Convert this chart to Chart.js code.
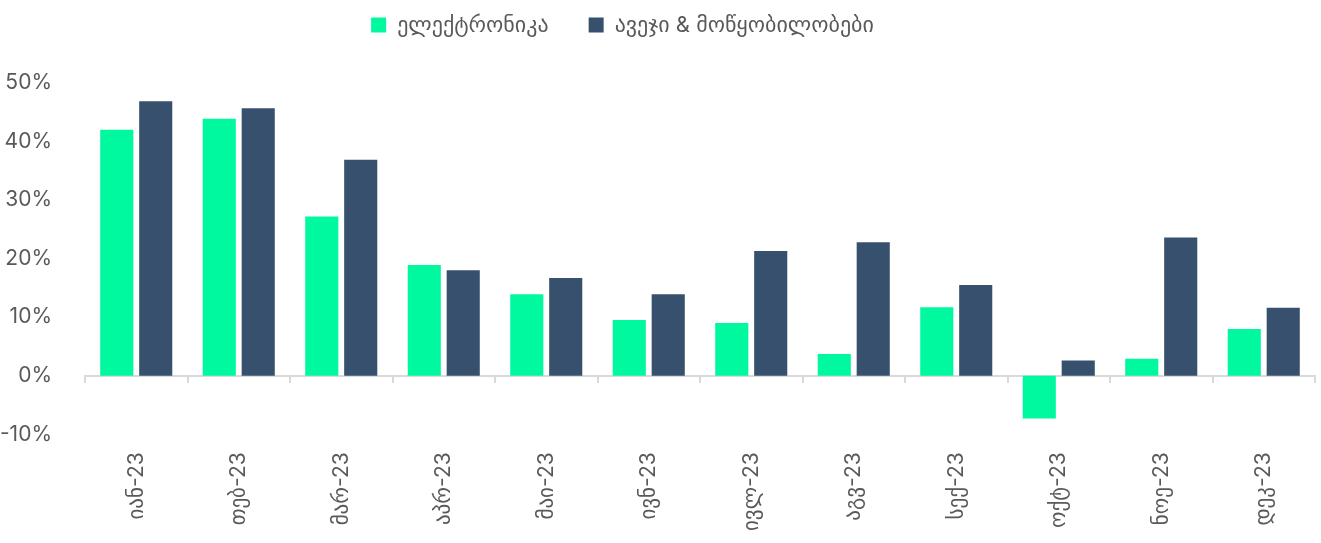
<!DOCTYPE html>
<html>
<head>
<meta charset="utf-8">
<script src="https://cdn.jsdelivr.net/npm/chart.js@4"></script>
<style>
  html, body { margin: 0; padding: 0; background: #fff; }
  #wrap { width: 1321px; height: 543px; }
</style>
</head>
<body>
<div id="wrap"><canvas id="myChart"></canvas></div>
<script>
const months = ['იან-23', 'თებ-23', 'მარ-23', 'აპრ-23', 'მაი-23', 'ივნ-23', 'ივლ-23', 'აგვ-23', 'სექ-23', 'ოქტ-23', 'ნოე-23', 'დეკ-23'];
const electronics = [42.0, 43.9, 27.2, 18.9, 13.9, 9.5, 9.0, 3.7, 11.7, -7.3, 2.9, 8.0];
const furniture = [46.9, 45.7, 36.9, 18.0, 16.7, 13.9, 21.3, 22.8, 15.5, 2.6, 23.6, 11.6];

const fontFamily = "Inter, 'Noto Sans', 'DejaVu Sans', sans-serif";
const textColor = '#595959';

// move the legend up and a bit left, like the original
const legendShift = {
  id: 'legendShift',
  afterLayout(chart) {
    chart.legend.top -= 37;
    chart.legend.bottom -= 37;
    chart.legend.left -= 35;
    chart.legend.right -= 35;
  }
};

var ctx = document.getElementById('myChart');

new Chart(ctx, {
  type: 'bar',
  data: {
    labels: months,
    datasets: [
      {
        label: 'ელექტრონიკა',
        data: electronics,
        backgroundColor: '#00f99e',
        categoryPercentage: 0.76,
        barPercentage: 0.85
      },
      {
        label: 'ავეჯი & მოწყობილობები',
        data: furniture,
        backgroundColor: '#36506e',
        categoryPercentage: 0.76,
        barPercentage: 0.85
      }
    ]
  },
  options: {
    responsive: true,
    maintainAspectRatio: false,
    animation: false,
    layout: { padding: { left: 0, right: 6, top: 11, bottom: 2 } },
    plugins: {
      tooltip: { enabled: false },
      legend: {
        position: 'top',
        labels: {
          boxWidth: 15,
          boxHeight: 15,
          padding: 40,
          color: textColor,
          font: { family: fontFamily, size: 22 }
        }
      }
    },
    scales: {
      x: {
        grid: { display: false },
        border: { display: false },
        ticks: {
          minRotation: 90,
          maxRotation: 90,
          padding: 10,
          color: textColor,
          font: { family: fontFamily, size: 21 }
        }
      },
      // axis line drawn at zero with tick marks between months
      x2: {
        type: 'category',
        labels: months,
        position: { y: 0 },
        offset: true,
        grid: {
          offset: true,
          drawOnChartArea: false,
          drawTicks: true,
          tickLength: 6,
          color: '#d9d9d9',
          lineWidth: 2
        },
        border: { display: true, color: '#d9d9d9', width: 2 },
        ticks: { display: false }
      },
      y: {
        min: -10,
        max: 50,
        grid: { display: false },
        border: { display: false },
        afterFit: scale => { scale.width = 85; },
        ticks: {
          stepSize: 10,
          padding: 25,
          color: textColor,
          font: { family: fontFamily, size: 21 },
          callback: value => value + '%'
        }
      }
    }
  },
  plugins: [legendShift]
});
</script>
</body>
</html>
